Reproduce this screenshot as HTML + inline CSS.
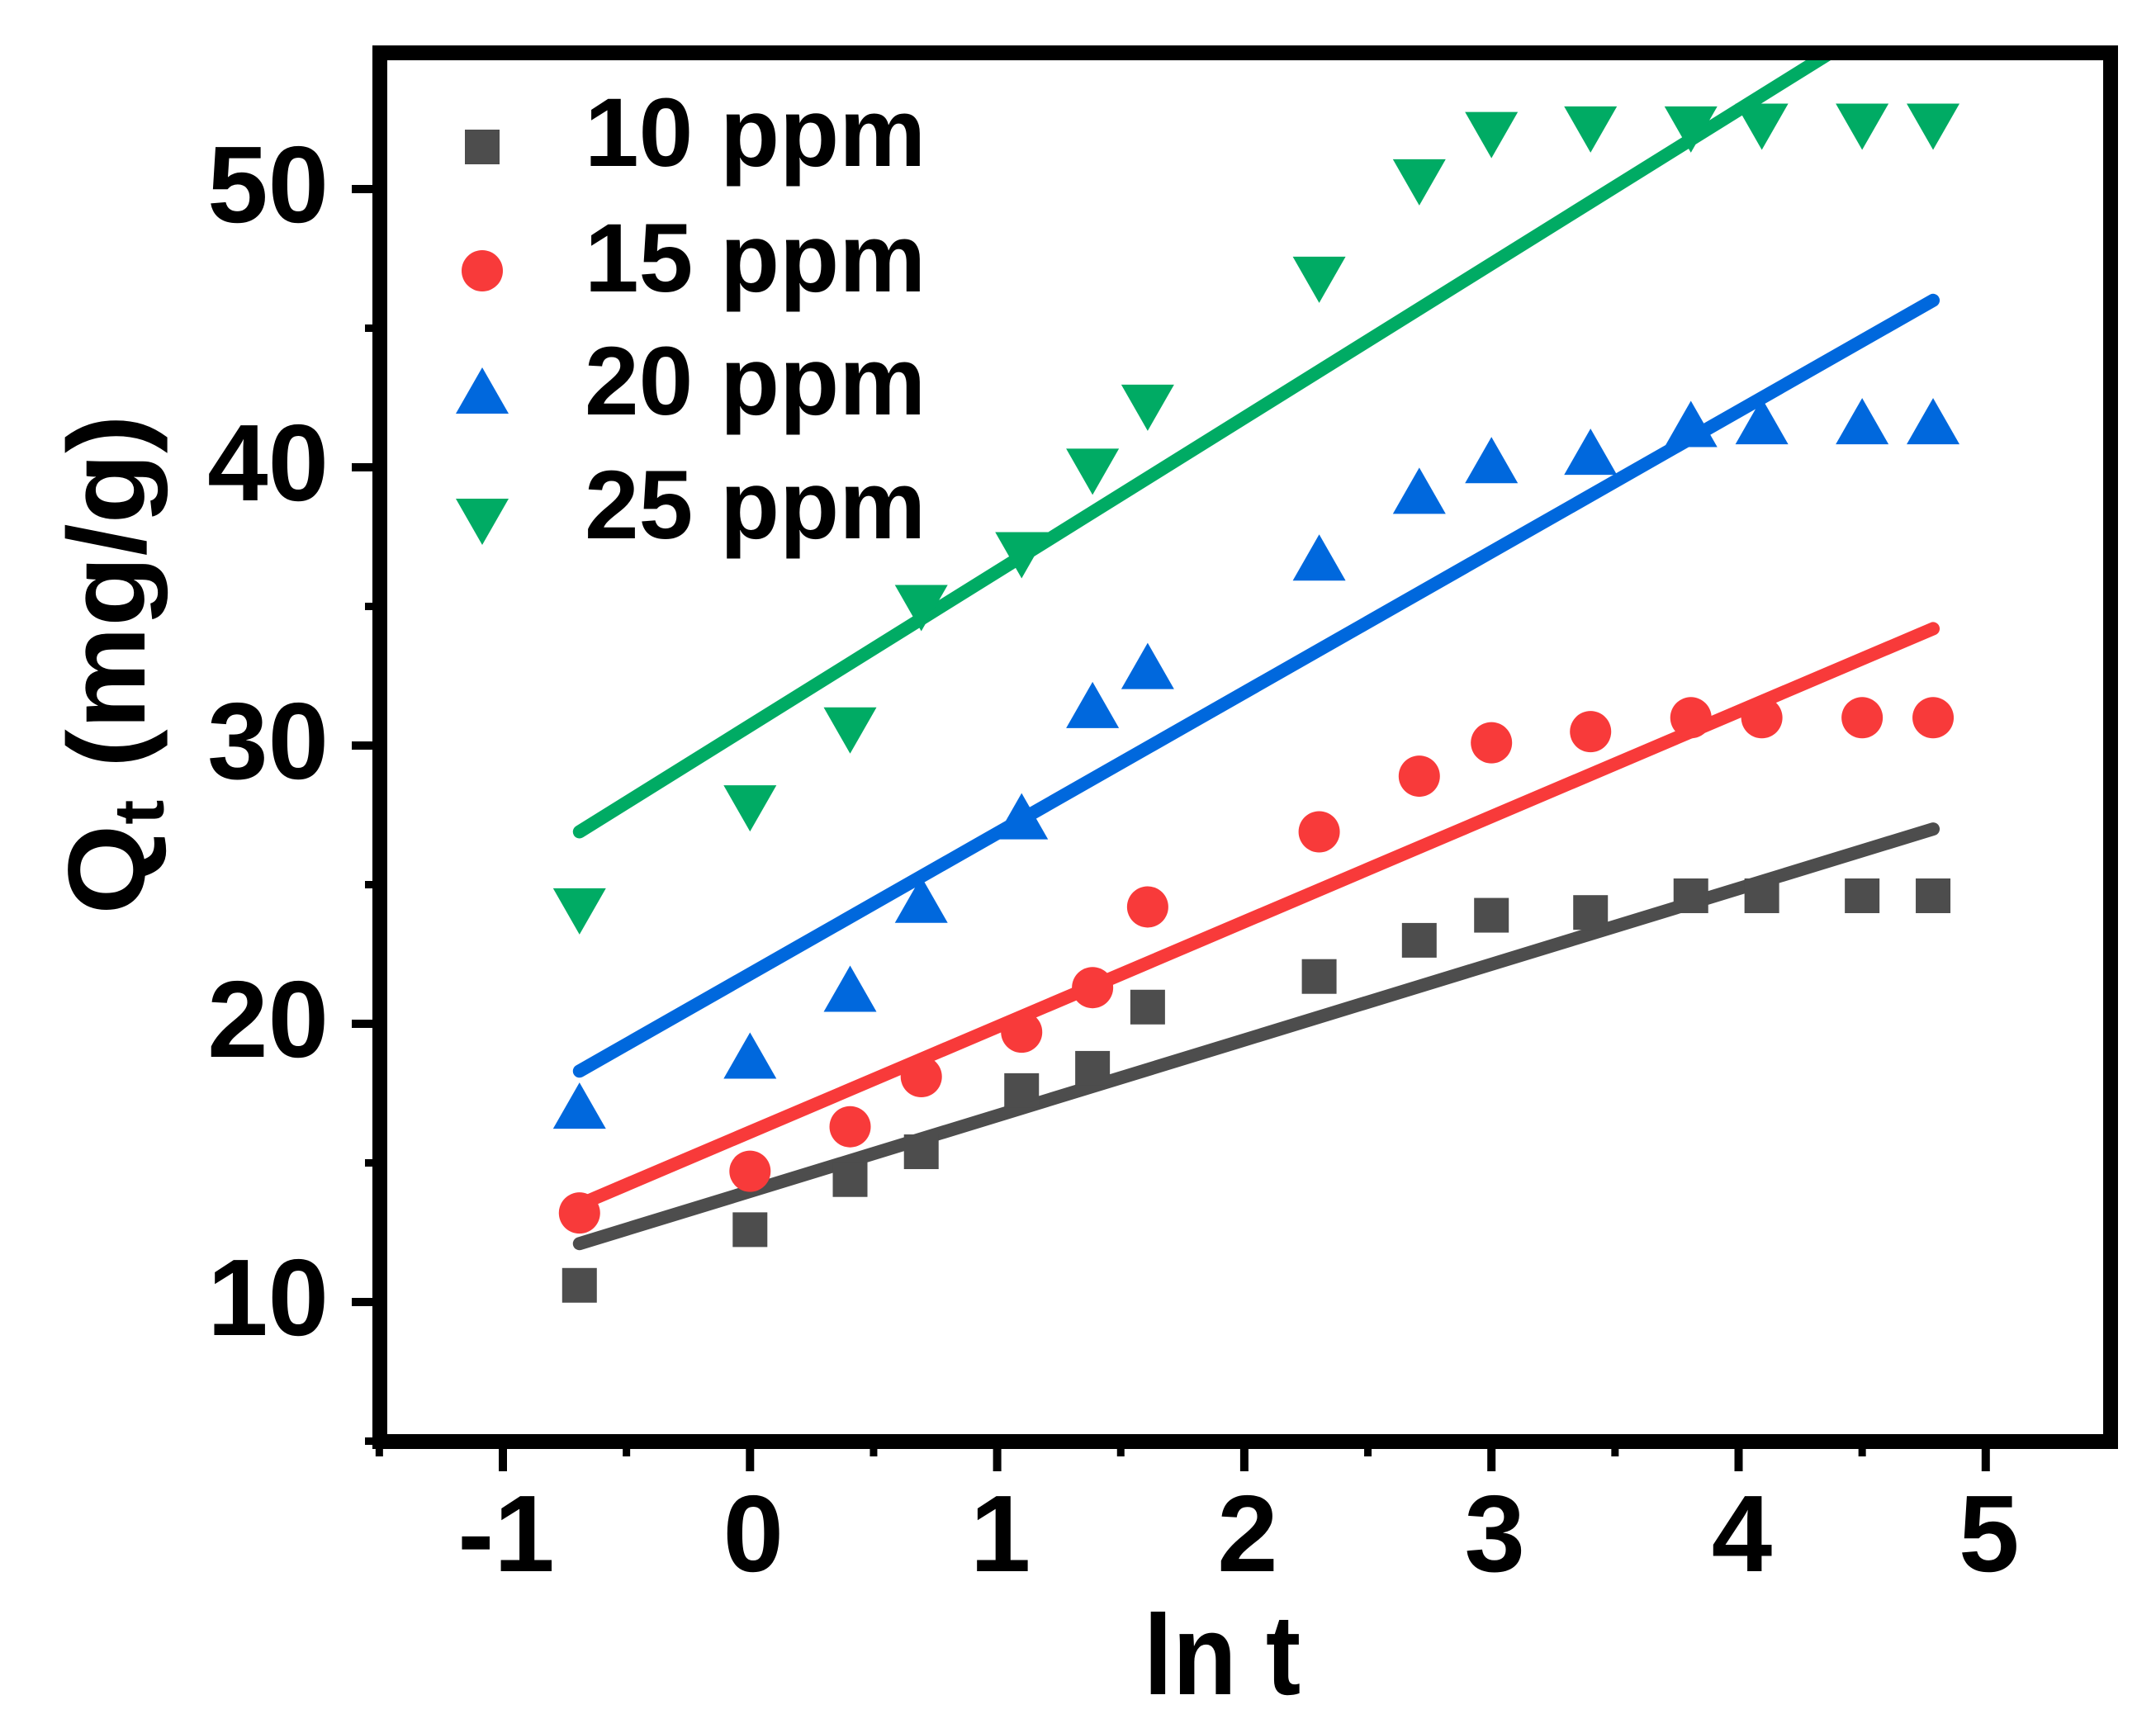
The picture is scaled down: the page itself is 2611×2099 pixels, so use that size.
<!DOCTYPE html>
<html><head><meta charset="utf-8"><style>
html,body{margin:0;padding:0;background:#fff;}
svg{display:block;font-family:"Liberation Sans",Arial,sans-serif;font-weight:bold;}
</style></head><body>
<svg id="chart" width="2611" height="2099" viewBox="0 0 2611 2099" xmlns="http://www.w3.org/2000/svg">
<defs><clipPath id="plotclip"><rect x="460" y="64" width="2096" height="1682"/></clipPath></defs>
<rect x="0" y="0" width="2611" height="2099" fill="#fff"/>
<g id="marks" clip-path="url(#plotclip)"></g>
<g id="axes"></g>
<g id="legend"></g>
<text x="1480" y="2052" font-size="138" text-anchor="middle" transform="translate(1480,0) scale(0.92,1) translate(-1480,0)">ln t</text>
<text transform="translate(175,805) rotate(-90) scale(1,0.95)" font-size="140" text-anchor="middle">Q<tspan font-size="90" dy="24">t</tspan><tspan dy="-24"> (mg/g)</tspan></text>
</svg>
<script>
const lnT = [-0.69, 0, 0.405, 0.693, 1.099, 1.386, 1.609, 2.303, 2.708, 3.0, 3.401, 3.807, 4.094, 4.5, 4.787];
const q10 = [10.6, 12.6, 14.4, 15.4, 17.6, 18.4, 20.6, 21.7, 23.0, 23.9, 24.0, 24.6, 24.6, 24.6, 24.6];
const q15 = [13.2, 14.7, 16.3, 18.1, 19.7, 21.3, 24.2, 26.9, 28.9, 30.1, 30.5, 31.0, 31.0, 31.0, 31.0];
const q20 = [17.0, 18.8, 21.2, 24.4, 27.4, 31.4, 32.8, 36.7, 39.1, 40.2, 40.5, 41.5, 41.6, 41.6, 41.6];
const q25 = [24.1, 27.8, 30.6, 35.0, 36.9, 39.9, 42.2, 46.8, 50.3, 52.0, 52.2, 52.2, 52.3, 52.3, 52.3];
const fitStart = [12.1, 13.5, 18.3, 26.9];
const fitEnd = [27.0, 34.2, 46.0, 57.2];
const seriesNames = ["10 ppm", "15 ppm", "20 ppm", "25 ppm"];
const xTicks = [-1, 0, 1, 2, 3, 4, 5];
const yTicks = [10, 20, 30, 40, 50];

const NS = "http://www.w3.org/2000/svg";
const xS = v => 609 + (v + 1) * 299.3;
const yS = v => 229 + (50 - v) * 33.7;
const colors = ["#4d4d4d", "#f83a3a", "#0068dd", "#00ab64"];
const shapes = ["square", "circle", "up", "down"];
function mk(tag, attrs, parent) { const e = document.createElementNS(NS, tag); for (const k in attrs) e.setAttribute(k, attrs[k]); parent.appendChild(e); return e; }
function marker(shape, cx, cy, color, parent) {
  let e;
  if (shape === "square") e = mk("rect", {x: cx - 21, y: cy - 21, width: 42, height: 42, fill: color}, parent);
  else if (shape === "circle") e = mk("ellipse", {cx: cx, cy: cy, rx: 25, ry: 25, fill: color}, parent);
  else if (shape === "up") e = mk("polygon", {points: `${cx},${cy - 30} ${cx - 32},${cy + 26} ${cx + 32},${cy + 26}`, fill: color}, parent);
  else e = mk("polygon", {points: `${cx},${cy + 30} ${cx - 32},${cy - 26} ${cx + 32},${cy - 26}`, fill: color}, parent);
  return e;
}
const marks = document.getElementById("marks");
const allQ = [q10, q15, q20, q25];
allQ.forEach((qs, s) => {
  const g = mk("g", {}, marks);
  
  
  const ln = mk("line", {x1: xS(lnT[0]), y1: yS(fitStart[s]), x2: xS(lnT[lnT.length - 1]), y2: yS(fitEnd[s]), stroke: colors[s], "stroke-width": 16, "stroke-linecap": "round"}, g);
  
  
  qs.forEach((v, i) => {
    const m = marker(shapes[s], xS(lnT[i]), yS(v), colors[s], g);
    
    
  });
});
const axes = document.getElementById("axes");
const fr = mk("rect", {x: 460, y: 64, width: 2096, height: 1682, fill: "none", stroke: "#000", "stroke-width": 18}, axes);


xTicks.forEach((t, i) => {
  const x = xS(t);
  const tk = mk("line", {x1: x, y1: 1746, x2: x, y2: 1782, stroke: "#000", "stroke-width": 10}, axes);
  
  
  const lb = mk("text", {x: x + 4, y: 1903, "font-size": 132, "text-anchor": "middle"}, axes);
  lb.textContent = t;
  
  
  if (i < xTicks.length - 1) {
    const mx = xS(t + 0.5);
    const mt = mk("line", {x1: mx, y1: 1746, x2: mx, y2: 1764, stroke: "#000", "stroke-width": 9}, axes);
    
    
  }
});
[-1.5].forEach(t => {
  const mt = mk("line", {x1: xS(t), y1: 1746, x2: xS(t), y2: 1764, stroke: "#000", "stroke-width": 9}, axes);
  
  
});
yTicks.forEach(t => {
  const y = yS(t);
  const tk = mk("line", {x1: 426, y1: y, x2: 460, y2: y, stroke: "#000", "stroke-width": 10}, axes);
  
  
  const lb = mk("text", {x: 398, y: y + 40, "font-size": 132, "text-anchor": "end"}, axes);
  lb.textContent = t;
  
  
});
[5, 15, 25, 35, 45].forEach(t => {
  const mt = mk("line", {x1: 442, y1: yS(t), x2: 460, y2: yS(t), stroke: "#000", "stroke-width": 9}, axes);
  
  
});
const legend = document.getElementById("legend");
const legY = [178, 328, 475, 630];
const legBase = [201, 353, 502, 652];
seriesNames.forEach((n, s) => {
  const g = mk("g", {}, legend);
  
  
  marker(shapes[s], 584, legY[s], colors[s], g);
  const t = mk("text", {x: 708, y: legBase[s], "font-size": 118}, g);
  t.textContent = n;
});
</script>
</body></html>
